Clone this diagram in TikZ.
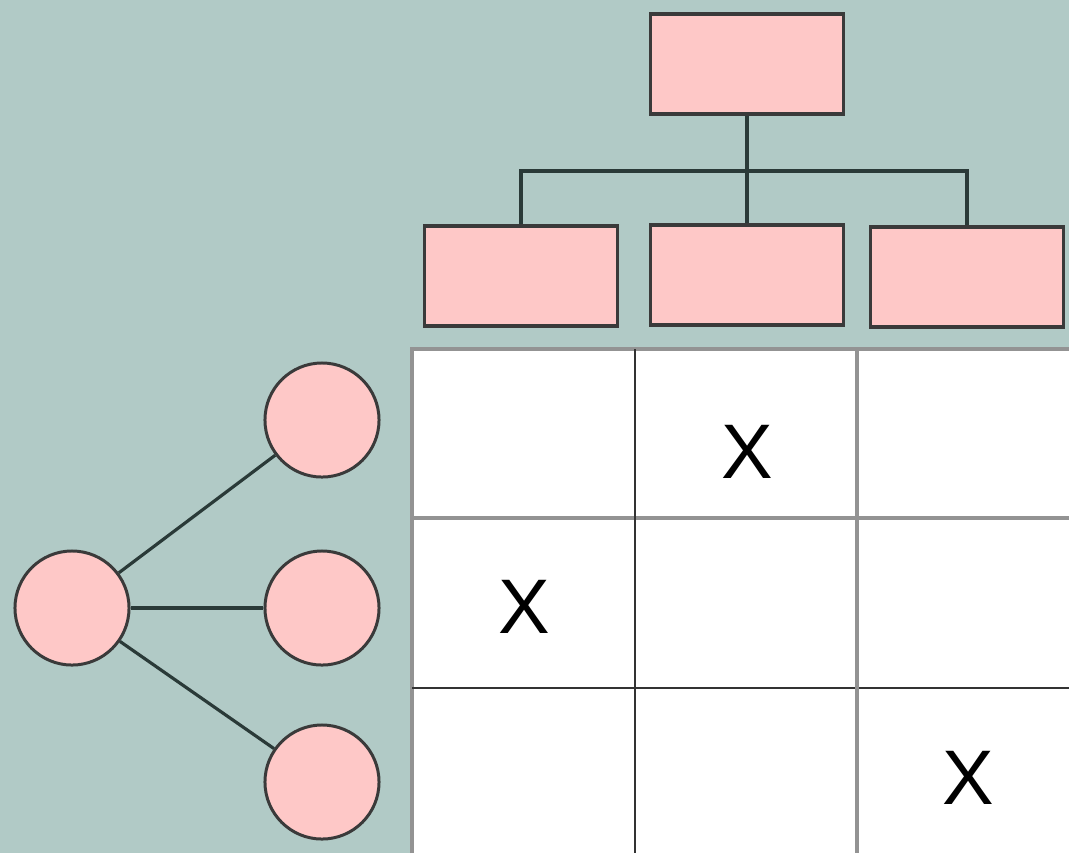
\documentclass[tikz,border=0pt]{standalone}
\usepackage{fontspec}
\setmainfont{Liberation Sans}
\begin{document}
\begin{tikzpicture}[x=0.01cm,y=-0.01cm,
  box/.style={draw=boxline,fill=pinkfill,line width=1pt,minimum width=1.93cm,minimum height=1.0cm,inner sep=0pt},
  circ/.style={circle,draw=boxline,fill=pinkfill,line width=0.85pt,minimum size=1.14cm,inner sep=0pt},
  conn/.style={draw=linec,line width=0.9pt},
  gridgray/.style={draw=gray!85,line width=1pt},
  griddark/.style={draw=black!80,line width=0.7pt},
  xmark/.style={font=\fontsize{22}{22}\selectfont,text=black,inner sep=0pt}]
\definecolor{bgteal}{HTML}{B1CAC6}
\definecolor{pinkfill}{HTML}{FEC8C7}
\definecolor{boxline}{HTML}{3A3A3A}
\definecolor{linec}{HTML}{2A3A38}
\fill[bgteal] (0,0) rectangle (1069,853);
\useasboundingbox (0,0) rectangle (1069,853);
% grid
\fill[white] (412,349) rectangle (1069,853);
\draw[gridgray] (412,853) -- (412,349) -- (1069,349);
\draw[gridgray] (412,518) -- (1069,518);
\draw[griddark] (412,688) -- (1069,688);
\draw[griddark] (635,349) -- (635,853);
\draw[gridgray] (857,349) -- (857,853);
\node[xmark] (x1) at (747,452) {X};
\node[xmark] (x2) at (524,607) {X};
\node[xmark] (x3) at (968,778) {X};
% tree
\node[box] (top) at (747,64) {};
\node[box] (b1) at (521,276) {};
\node[box] (b2) at (747,275) {};
\node[box] (b3) at (967,277) {};
\coordinate (jl) at (521,171);
\coordinate (jr) at (967,171);
\draw[conn] (top.south) -- (b2.north);
\draw[conn] (b1.north) -- (jl) -- (jr) -- (b3.north);
% circles
\node[circ] (c0) at (72,608) {};
\node[circ] (c1) at (322,420) {};
\node[circ] (c2) at (322,608) {};
\node[circ] (c3) at (322,782) {};
\draw[conn] (c0) -- (c1);
\draw[conn] (c0) -- (c2);
\draw[conn] (c0) -- (c3);
\end{tikzpicture}
\end{document}
